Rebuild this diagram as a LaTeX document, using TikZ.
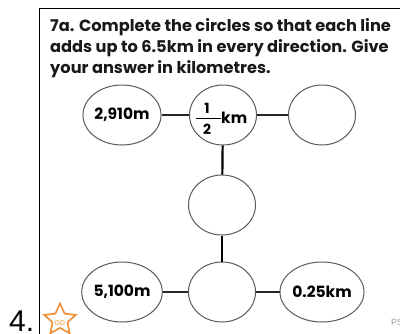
\documentclass[tikz,border=0pt]{standalone}
\usepackage{fontspec}
\setmainfont{Poppins}
\newfontfamily\arialfont{Liberation Sans}
\usetikzlibrary{shapes.geometric}
\definecolor{starorange}{RGB}{240,140,50}
\definecolor{circgray}{RGB}{90,90,90}
\tikzset{
  circ/.style={ellipse, draw=circgray, line width=1pt, minimum width=67pt, minimum height=60pt, inner sep=0pt, font=\fontsize{15.5}{15.5}\selectfont\bfseries},
  hline/.style={draw=black!85, line width=1.4pt},
  vline/.style={draw=black, line width=2.2pt},
  qtext/.style={anchor=base west, inner sep=0pt, font=\fontsize{16.2}{16.2}\selectfont\bfseries, text=black!90},
  frac/.style={inner sep=0pt, font=\fontsize{14}{14}\selectfont\bfseries}
}
\begin{document}
\begin{tikzpicture}[x=1pt,y=-1pt]
\useasboundingbox (0,0) rectangle (400,333);
\clip (0,0) rectangle (400,333);
% frame
\draw[line width=1.8pt] (39.5,334) -- (39.5,8.5) -- (402,8.5);
% question text
\node[qtext] (t1) at (50,31) {7a. Complete the circles so that each line};
\node[qtext] (t2) at (50,52) {adds up to 6.5km in every direction. Give};
\node[qtext] (t3) at (50,73) {your answer in kilometres.};
% circles
\node[circ] (c11) at (122,115) {2,910m};
\node[circ] (c12) at (223,115) {};
\node[circ] (c13) at (322,115) {};
\node[circ] (c2)  at (222,205) {};
\node[circ] (c31) at (122,292) {5,100m};
\node[circ] (c32) at (222,292) {};
\node[circ] (c33) at (322,292) {0.25km};
% fraction label in c12
\node[frac] (f1) at (207,108.5) {1};
\node[frac] (f2) at (207,129) {2};
\coordinate (fb1) at (195.5,118.5);
\coordinate (fb2) at (221,118.5);
\draw[line width=1.1pt] (fb1) -- (fb2);
\node[anchor=base west, inner sep=0pt, font=\fontsize{15.5}{15.5}\selectfont\bfseries] (km) at (221,123) {km};
% connectors
\draw[hline] (c11) -- (c12);
\draw[hline] (c12) -- (c13);
\draw[hline] (c31) -- (c32);
\draw[hline] (c32) -- (c33);
\draw[vline] (c12) -- (c2);
\draw[vline] (c2) -- (c32);
% number
\node[anchor=base west, inner sep=0pt, font=\arialfont\fontsize{30}{30}\selectfont] (num) at (9,331) {4.};
% star
\node[star, star points=5, star point ratio=2.1, draw=starorange, line width=1.6pt, minimum size=33pt, inner sep=0pt] (st) at (60,320) {};
\node[inner sep=0pt, font=\arialfont\fontsize{7}{7}\selectfont\bfseries, text=starorange!70] (gd) at (60,323) {GD};
% cut-off grey text
\node[anchor=base west, inner sep=0pt, font=\arialfont\fontsize{9}{9}\selectfont, text=black!40] (ps) at (391,325) {PS};
\end{tikzpicture}
\end{document}
